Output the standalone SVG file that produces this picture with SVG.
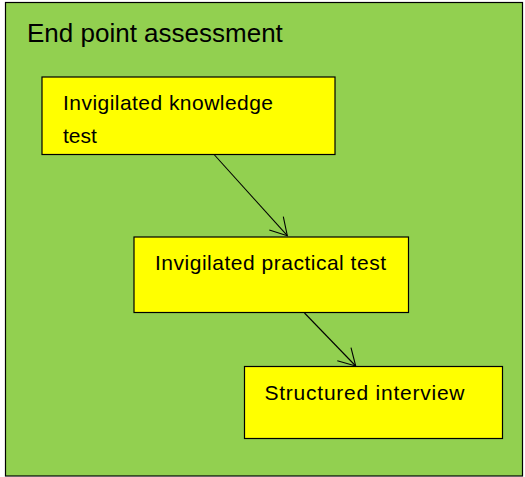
<svg xmlns="http://www.w3.org/2000/svg" width="525" height="477" viewBox="0 0 525 477">
<style>
.box{fill:#FFFF00;stroke:#000;stroke-width:1.2}
.t{font-family:"Liberation Sans",Arial,sans-serif;font-size:21px;fill:#000}
.c{fill:none;stroke:#000;stroke-width:1.1}
</style>
<g id="container">
<rect x="5.5" y="2.5" width="517" height="473.5" fill="#92D050" stroke="#000" stroke-width="1.2"/>
<text x="27" y="42" style="font-family:'Liberation Sans',Arial,sans-serif;font-size:26px" fill="#000">End point assessment</text>
</g>
<g id="connectors">
<path class="c" d="M214.5,155 L287.3,235.7"/>
<path class="c" d="M283.3,216.7 L287.3,235.7 L269.3,230"/>
<path class="c" d="M304.5,313 L355.7,366"/>
<path class="c" d="M351,347.7 L355.7,366 L337.3,360.7"/>
</g>
<g id="node1">
<rect class="box" x="42" y="77" width="293" height="77.5"/>
<text class="t" x="63" y="110" textLength="210">Invigilated knowledge</text>
<text class="t" x="63" y="143">test</text>
</g>
<g id="node2">
<rect class="box" x="134" y="237" width="274.5" height="75.5"/>
<text class="t" x="155" y="270" textLength="231">Invigilated practical test</text>
</g>
<g id="node3">
<rect class="box" x="244.5" y="366.5" width="258" height="72"/>
<text class="t" x="264.5" y="400" textLength="200">Structured interview</text>
</g>
</svg>
